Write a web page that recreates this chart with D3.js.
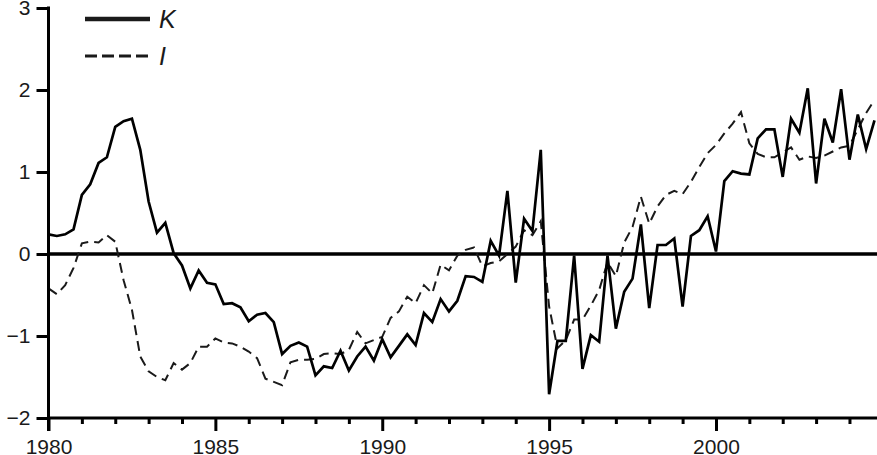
<!DOCTYPE html>
<html>
<head>
<meta charset="utf-8">
<script src="https://cdn.jsdelivr.net/npm/d3@7/dist/d3.min.js"></script>
<style>
  body { margin: 0; background: #fff; }
  svg { display: block; }
  text { font-family: "Liberation Sans", Arial, sans-serif; fill: #1a1a1a; }
</style>
</head>
<body>
<div id="graph-area"></div>
<script>
// quarterly series, 1980Q1 .. 2004Q4 (one row per year)
var startYear = 1980;
var kValues = [
   0.24,  0.22,  0.24,  0.30,
   0.72,  0.85,  1.11,  1.18,
   1.55,  1.62,  1.65,  1.27,
   0.64,  0.26,  0.38,  0.01,
  -0.14, -0.42, -0.20, -0.35,
  -0.37, -0.61, -0.60, -0.65,
  -0.82, -0.74, -0.72, -0.83,
  -1.22, -1.12, -1.08, -1.13,
  -1.48, -1.37, -1.39, -1.18,
  -1.42, -1.25, -1.13, -1.30,
  -1.04, -1.26, -1.12, -0.98,
  -1.11, -0.72, -0.83, -0.55,
  -0.70, -0.57, -0.27, -0.28,
  -0.34,  0.16, -0.02,  0.77,
  -0.35,  0.43,  0.28,  1.27,
  -1.71, -1.06, -1.06, -0.02,
  -1.40, -0.99, -1.07, -0.02,
  -0.91, -0.46, -0.30,  0.36,
  -0.66,  0.11,  0.11,  0.19,
  -0.64,  0.22,  0.29,  0.46,
   0.03,  0.89,  1.01,  0.98,
   0.97,  1.41,  1.52,  1.52,
   0.94,  1.65,  1.48,  2.02,
   0.86,  1.65,  1.36,  2.01,
   1.15,  1.70,  1.28,  1.63
];
var iValues = [
  -0.42, -0.49, -0.38, -0.17,
   0.13,  0.15,  0.14,  0.23,
   0.15, -0.32, -0.68, -1.25,
  -1.43, -1.50, -1.54, -1.33,
  -1.41, -1.33, -1.13, -1.13,
  -1.03, -1.08, -1.09, -1.13,
  -1.19, -1.27, -1.52, -1.56,
  -1.60, -1.32, -1.29, -1.29,
  -1.28, -1.22, -1.21, -1.22,
  -1.17, -0.95, -1.09, -1.05,
  -1.01, -0.78, -0.70, -0.52,
  -0.60, -0.38, -0.48, -0.13,
  -0.20, -0.02,  0.05,  0.08,
  -0.15, -0.11, -0.09,  0.00,
   0.09,  0.29,  0.23,  0.40,
  -0.64, -1.15, -1.05, -0.80,
  -0.80, -0.63, -0.44, -0.10,
  -0.27,  0.14,  0.33,  0.70,
   0.37,  0.58,  0.72,  0.77,
   0.73,  0.88,  1.06,  1.23,
   1.33,  1.47,  1.59,  1.73,
   1.35,  1.22,  1.18,  1.18,
   1.24,  1.30,  1.15,  1.19,
   1.17,  1.20,  1.25,  1.30,
   1.32,  1.52,  1.72,  1.88
];
var xMajorTicks = [1980, 1985, 1990, 1995, 2000];
var xMinorTicks = [1981, 1982, 1983, 1984, 1986, 1987, 1988, 1989, 1991, 1992, 1993, 1994,
                   1996, 1997, 1998, 1999, 2001, 2002, 2003, 2004];
var yTicks = [-2, -1, 0, 1, 2, 3];
var seriesNames = ["K", "I"];

var width = 877, height = 455;
var plotLeft = 48.5, plotTop = 8, plotBottom = 418;

var svg = d3.select('#graph-area')
            .append('svg')
            .attr('width', width)
            .attr('height', height);

var x = d3.scaleLinear().domain([1980, 2004.75]).range([plotLeft, 874.5]);
var y = d3.scaleLinear().domain([-2, 3]).range([plotBottom, plotTop]);

function toPoints(vals){
  return vals.map(function(v, i){ return { t: startYear + i / 4, v: v }; });
}

var line = d3.line()
             .x(function(d){ return x(d.t); })
             .y(function(d){ return y(d.v); });

// zero line
svg.append('line')
   .attr('x1', plotLeft).attr('x2', width)
   .attr('y1', y(0)).attr('y2', y(0))
   .attr('stroke', '#000')
   .attr('stroke-width', 3.5);

// I series (dashed)
svg.append('path')
   .datum(toPoints(iValues))
   .attr('d', line)
   .attr('fill', 'none')
   .attr('stroke', '#1a1a1a')
   .attr('stroke-width', 2)
   .attr('stroke-dasharray', '10,6');

// K series (solid)
svg.append('path')
   .datum(toPoints(kValues))
   .attr('d', line)
   .attr('fill', 'none')
   .attr('stroke', '#000')
   .attr('stroke-width', 2.7);

// y axis
var yAxis = d3.axisLeft(y)
              .tickValues(yTicks)
              .tickSize(12)
              .tickPadding(6)
              .tickFormat(d3.format('d'));
var gy = svg.append('g')
            .attr('transform', 'translate(' + plotLeft + ',0)')
            .call(yAxis);
gy.select('.domain').remove();
gy.selectAll('.tick line').attr('stroke', '#000').attr('stroke-width', 3);
gy.selectAll('.tick text')
  .style('font-size', '21px')
  .attr('fill', '#1a1a1a')
  .text(function(d){ return d < 0 ? '\u2212' + Math.abs(d) : d; });
gy.append('line')
  .attr('x1', 0).attr('x2', 0)
  .attr('y1', plotTop - 1.5).attr('y2', plotBottom + 13)
  .attr('stroke', '#000')
  .attr('stroke-width', 3);

// x axis
var gx = svg.append('g')
            .attr('transform', 'translate(0,' + plotBottom + ')');
gx.append('line')
  .attr('x1', plotLeft - 1.5).attr('x2', width)
  .attr('y1', 0).attr('y2', 0)
  .attr('stroke', '#000')
  .attr('stroke-width', 3);
gx.call(d3.axisBottom(x).tickValues(xMinorTicks).tickSize(6).tickFormat(''))
  .select('.domain').remove();
gx.selectAll('.tick line').attr('stroke', '#000').attr('stroke-width', 3);

var gxMajor = svg.append('g')
                 .attr('transform', 'translate(0,' + plotBottom + ')')
                 .call(d3.axisBottom(x).tickValues(xMajorTicks).tickSize(13).tickPadding(8).tickFormat(d3.format('d')));
gxMajor.select('.domain').remove();
gxMajor.selectAll('.tick line').attr('stroke', '#000').attr('stroke-width', 3);
gxMajor.selectAll('.tick text').style('font-size', '21px').attr('fill', '#1a1a1a');

// legend
var legend = svg.append('g');
var legendRows = [
  { name: seriesNames[0], y: 19, dash: null, w: 4.5 },
  { name: seriesNames[1], y: 56, dash: '12,5', w: 3 }
];
legendRows.forEach(function(r){
  legend.append('line')
        .attr('x1', 85).attr('x2', 150)
        .attr('y1', r.y).attr('y2', r.y)
        .attr('stroke', '#1a1a1a')
        .attr('stroke-width', r.w)
        .attr('stroke-dasharray', r.dash);
  legend.append('text')
        .attr('x', 159)
        .attr('y', r.y)
        .attr('dy', '0.35em')
        .style('font-size', '25px')
        .style('font-style', 'italic')
        .text(r.name);
});
</script>
</body>
</html>
